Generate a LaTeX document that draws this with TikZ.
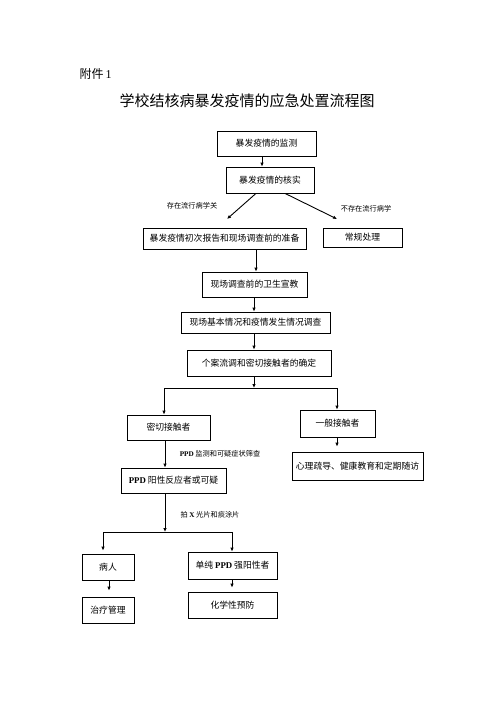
\documentclass[tikz,border=0pt]{standalone}
\usepackage{fontspec}
\setmainfont{Noto Sans CJK SC}
\newfontfamily\lserif{Liberation Serif}
\usetikzlibrary{arrows.meta}
\tikzset{
  box/.style={draw, line width=0.8pt, inner sep=0pt, font=\fontsize{8.8}{10}\selectfont, anchor=center},
  arr/.style={line width=0.9pt, -{Latex[length=4pt,width=3.5pt]}},
  ln/.style={line width=0.9pt},
  lab/.style={font=\fontsize{7.2}{9}\selectfont, inner sep=0pt}
}
\begin{document}
\begin{tikzpicture}[x=1pt,y=-1pt]
\path[use as bounding box] (0,0) rectangle (496,702);
\node[anchor=west, font=\fontsize{12}{14}\selectfont] (fj) at (76,74) {附件\,{\lserif 1}};
\node[font=\fontsize{15}{18}\selectfont] (title) at (247,101) {学校结核病暴发疫情的应急处置流程图};

\node[box, minimum width=99pt, minimum height=25pt] (mon) at (266.5,143.5) {暴发疫情的监测};
\node[box, minimum width=88pt, minimum height=26pt] (ver) at (270,180) {暴发疫情的核实};
\node[box, minimum width=163pt, minimum height=21pt] (rep) at (224.5,238.5) {暴发疫情初次报告和现场调查前的准备};
\node[box, minimum width=79pt, minimum height=19pt] (rou) at (362.5,237.5) {常规处理};
\node[box, minimum width=105pt, minimum height=25pt] (edu) at (254.5,284.5) {现场调查前的卫生宣教};
\node[box, minimum width=149pt, minimum height=21pt] (sur) at (255.5,322.5) {现场基本情况和疫情发生情况调查};
\node[box, minimum width=144pt, minimum height=26pt] (cas) at (259,363) {个案流调和密切接触者的确定};
\node[box, minimum width=83pt, minimum height=25pt] (clo) at (168.5,427.5) {密切接触者};
\node[box, minimum width=75pt, minimum height=27pt] (gen) at (337.5,423.5) {一般接触者};
\node[box, minimum width=131pt, minimum height=28pt] (psy) at (357.5,466) {心理疏导、健康教育和定期随访};
\node[box, minimum width=105pt, minimum height=25pt] (ppd) at (173.5,480.5) {{\lserif\bfseries PPD} 阳性反应者或可疑};
\node[box, minimum width=52pt, minimum height=26pt] (pat) at (108,567) {病人};
\node[box, minimum width=89pt, minimum height=27pt] (str) at (232.5,565.5) {单纯 {\lserif\bfseries PPD} 强阳性者};
\node[box, minimum width=52pt, minimum height=26pt] (tre) at (108,610) {治疗管理};
\node[box, minimum width=89pt, minimum height=26pt] (che) at (232.5,605) {化学性预防};

\node[lab] (l1) at (192,206) {存在流行病学关};
\node[lab] (l2) at (366,209) {不存在流行病学};
\node[lab] (l3) at (220,454) {{\lserif\bfseries PPD} 监测和可疑症状筛查};
\node[lab] (l4) at (210,515) {拍 {\lserif\bfseries X} 光片和痰涂片};

\coordinate (j1) at (254,388);
\coordinate (j1l) at (164,388);
\coordinate (j1r) at (337,388);
\coordinate (j2) at (165,532);
\coordinate (j2l) at (103,532);
\coordinate (j2r) at (232,532);
\coordinate (d1a) at (256,195);
\coordinate (d1b) at (227,219);
\coordinate (d2a) at (285,195);
\coordinate (d2b) at (337,219);

\draw[arr] (mon.south -| 262,0) -- (ver.north -| 262,0);
\draw[arr] (ver.south -| d1a) -- (d1b);
\draw[arr] (ver.south -| d2a) -- (d2b);
\draw[arr] (rep.south -| 256,0) -- (edu.north -| 256,0);
\draw[arr] (edu.south -| 254,0) -- (sur.north -| 254,0);
\draw[arr] (sur.south -| 254,0) -- (cas.north -| 254,0);
\draw[arr] (cas.south -| j1) -- (j1);
\draw[ln] (j1l) -- (j1r);
\draw[arr] (j1l) -- (clo.north -| j1l);
\draw[arr] (j1r) -- (gen.north -| j1r);
\draw[arr] (gen.south -| 337,0) -- ([yshift=5pt]psy.north -| 337,0);
\draw[arr] (clo.south -| 165,0) -- (ppd.north -| 165,0);
\draw[arr] (ppd.south -| j2) -- (j2);
\draw[ln] (j2l) -- (j2r);
\draw[arr] (j2l) -- ([yshift=3pt]pat.north -| j2l);
\draw[arr] (j2r) -- (str.north -| j2r);
\draw[arr] (pat.south -| 109,0) -- ([yshift=6pt]tre.north -| 109,0);
\draw[arr] (str.south -| 232,0) -- ([yshift=4pt]che.north -| 232,0);
\end{tikzpicture}
\end{document}
